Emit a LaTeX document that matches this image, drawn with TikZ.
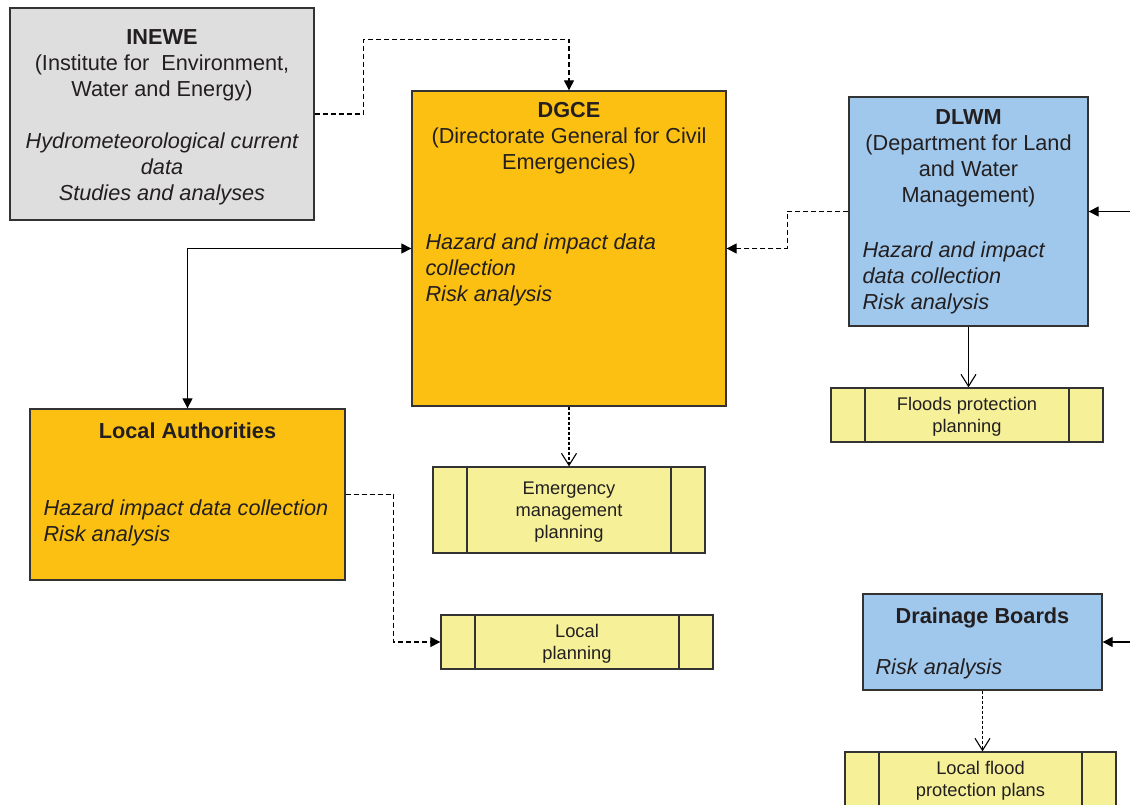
\documentclass[tikz,border=0pt]{standalone}
\usepackage{fontspec}
\setmainfont{Liberation Sans}
\usetikzlibrary{arrows.meta, positioning}

\definecolor{ink}{HTML}{231F20}
\definecolor{edge}{HTML}{333333}
\definecolor{inewegray}{HTML}{DEDEDE}
\definecolor{civilorange}{HTML}{FBC012}
\definecolor{waterblue}{HTML}{A0C8EC}
\definecolor{planyellow}{HTML}{F6F199}

\tikzset{
  orgbox/.style={draw=edge, line width=1.3pt, inner sep=0pt},
  planbox/.style={orgbox, fill=planyellow, minimum width=272pt,
    align=center, text=ink, text depth=0pt, font=\fontsize{18.3}{22}\selectfont,
    path picture={
      \draw[edge, line width=1.3pt]
        ([xshift=34pt]path picture bounding box.south west) --
        ([xshift=34pt]path picture bounding box.north west);
      \draw[edge, line width=1.3pt]
        ([xshift=-34pt]path picture bounding box.south east) --
        ([xshift=-34pt]path picture bounding box.north east);
    }},
  headtext/.style={font=\fontsize{21.7}{26}\selectfont, text=ink,
    align=center, inner sep=0pt},
  dutytext/.style={font=\fontsize{21.7}{26}\selectfont\itshape, text=ink,
    align=left, inner sep=0pt},
  flow/.style={->, line width=1.2pt},
  dflow/.style={flow, line width=1.1pt, dash pattern=on 5pt off 3pt},
  oflow/.style={-{Straight Barb[length=12pt, width=15pt]}, line width=1.1pt},
  fflow/.style={oflow, dash pattern=on 3.5pt off 1.5pt},
}

\begin{document}
\begin{tikzpicture}[x=1pt, y=1pt, >={Triangle[length=10pt, width=10pt]}]
  \useasboundingbox (0,0) rectangle (1130,804);

  \node[orgbox, fill=inewegray, minimum width=304pt, minimum height=212pt]
    (inewe) at (162,690) {};
  \node[orgbox, fill=civilorange, minimum width=314pt, minimum height=315pt]
    (dgce) at (569,555.5) {};
  \node[orgbox, fill=waterblue, minimum width=239pt, minimum height=229pt]
    (dlwm) at (968.5,592.5) {};
  \node[orgbox, fill=civilorange, minimum width=315pt, minimum height=171pt]
    (local) at (187.5,309.5) {};
  \node[orgbox, fill=waterblue, minimum width=239pt, minimum height=96pt]
    (drain) at (982.5,162) {};

  \node[planbox, minimum height=54pt] (floods) at (967,389)
    {Floods protection\\planning};
  \node[planbox, minimum height=86pt] (emerg) at (569,294)
    {Emergency\\management\\planning};
  \node[planbox, minimum height=54pt] (lplan) at (577,162)
    {Local\\planning};
  \node[planbox, minimum width=271pt, minimum height=54pt] (lflood) at (980.5,25)
    {Local flood\\protection plans};

  \node[headtext, below=22pt of inewe.north] (inewe-head)
    {\textbf{INEWE}\\(Institute for\ \ Environment,\\Water and Energy)};
  \node[dutytext, align=center, below=125pt of inewe.north] (inewe-duty)
    {Hydrometeorological current\\data\\Studies and analyses};

  \node[headtext, below=12pt of dgce.north] (dgce-head)
    {\textbf{DGCE}\\(Directorate General for Civil\\Emergencies)};
  \node[dutytext, below right=143pt and 14pt of dgce.north west] (dgce-duty)
    {Hazard and impact data\\collection\\Risk analysis};

  \node[headtext, below=13pt of dlwm.north] (dlwm-head)
    {\textbf{DLWM}\\(Department for Land\\and Water\\Management)};
  \node[dutytext, below right=145pt and 14pt of dlwm.north west] (dlwm-duty)
    {Hazard and impact\\data collection\\Risk analysis};

  \node[headtext, font=\fontsize{21.7}{26}\selectfont\bfseries,
        below=14pt of local.north] (local-head) {Local Authorities};
  \node[dutytext, below right=91pt and 14pt of local.north west] (local-duty)
    {Hazard impact data collection\\Risk analysis};

  \node[headtext, font=\fontsize{21.7}{26}\selectfont\bfseries,
        below=14pt of drain.north] (drain-head) {Drainage Boards};
  \node[dutytext, below right=65pt and 13pt of drain.north west] (drain-duty)
    {Risk analysis};

  \coordinate[right=50pt of dlwm.east] (dlwm-in);
  \coordinate[right=36pt of drain.east] (drain-in);

  \draw[dflow] (inewe.east) -- ++(49,0) |- ([yshift=51pt]dgce.north) -- (dgce.north);
  \draw[dflow] (dlwm.west) -- ++(-61,0) |- (dgce.east);
  \draw[flow] (dlwm-in) -- (dlwm.east);
  \draw[flow, <->] (dgce.west) -| (local.north);
  \draw[fflow] (dgce.south) -- (emerg.north);
  \draw[oflow] (dlwm.south) -- (dlwm.south |- floods.north);
  \draw[dflow] (local.east) -- ++(48,0) |- (lplan.west);
  \draw[flow] (drain-in) -- (drain.east);
  \draw[fflow] (drain.south) -- (drain.south |- lflood.north);
\end{tikzpicture}
\end{document}
